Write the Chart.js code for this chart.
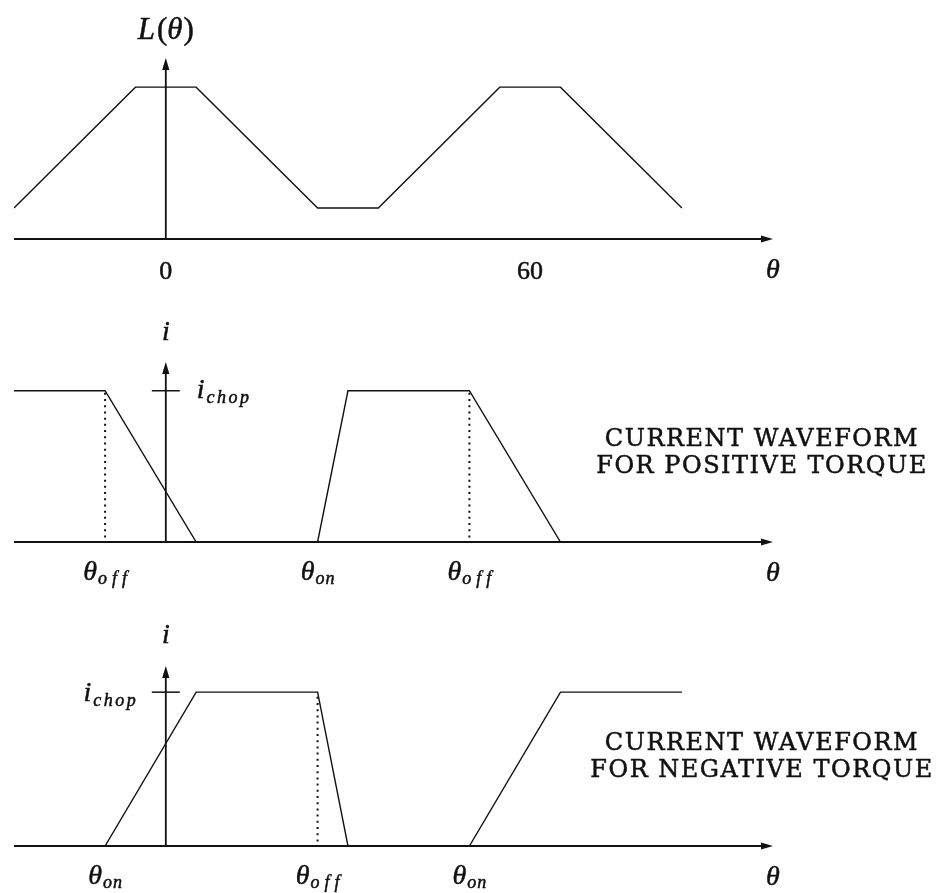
<!DOCTYPE html>
<html>
<head>
<meta charset="utf-8">
<title>Inductance profile and phase current waveforms</title>
<script src="https://cdn.jsdelivr.net/npm/chart.js@4.4.1/dist/chart.umd.min.js"></script>
<style>
  html, body { margin: 0; padding: 0; background: #fff; }
  #wrap { position: relative; width: 937px; height: 893px; }
  #wrap canvas { position: absolute; left: 0; }
</style>
</head>
<body>
<div id="wrap">
  <canvas id="chartL" width="937" height="300" style="top:0"></canvas>
  <canvas id="chartPos" width="937" height="300" style="top:300px"></canvas>
  <canvas id="chartNeg" width="937" height="293" style="top:600px"></canvas>
</div>
<script>
'use strict'

// rotor angle shown on every panel (degrees)
var thetaMin = -25;
var thetaMax = 100;

// phase inductance L(theta), arbitrary units
var inductanceTheta = [-25, -5, 5, 25, 35, 55, 65, 85];
var inductanceValue = [1, 4.9, 4.9, 1, 1, 4.9, 4.9, 1];
var inductanceTicks = [0, 60];
var inductanceTicksText = ['0', '60'];
var inductanceTop = 5.84;

// chopping level of the current, both current panels are scaled to it
var chopLevel = 1;

// current waveform for positive torque
var posTheta = [-25, -10, 5, 25, 30, 50, 65];
var posCurrent = [1, 1, 0, 0, 1, 1, 0];
var posMarks = [-10, 25, 50];
var posMarkNames = ['off', 'on', 'off'];
var posDotted = [-10, 50];
var posTop = 1.19;

// current waveform for negative torque
var negTheta = [-10, 5, 25, 30, 50, 65, 85];
var negCurrent = [0, 1, 1, 0, 0, 1, 1];
var negMarks = [-10, 25, 50];
var negMarkNames = ['on', 'off', 'on'];
var negDotted = [25];
var negTop = 1.17;

var ink = '#111';
var mathFont = 'italic 28px "Liberation Serif"';
var bigMathFont = 'italic 31px "Liberation Serif"';
var subFont = 'italic 18px "Liberation Serif"';
var parenFont = '31px "Liberation Serif"';
var digitFont = '26px "Liberation Serif"';
var noteFont = '24px "DejaVu Serif"';

function points(xs, ys) {
    return xs.map(function (x, k) { return { x: x, y: ys[k] }; });
}

function waveform(xs, ys) {
    return {
        data: points(xs, ys),
        borderColor: ink,
        borderWidth: 1.4,
        pointRadius: 0,
        tension: 0,
        fill: false
    };
}

function dottedLines(xs) {
    return xs.map(function (x) {
        return {
            data: points([x, x], [0.03, chopLevel]),
            borderColor: ink,
            borderWidth: 2,
            borderDash: [2, 4.2],
            pointRadius: 0,
            fill: false
        };
    });
}

// text made of pieces (main symbol, subscript...), each piece: text, font, dy, track
function pieceWidth(ctx, p) {
    ctx.font = p.font;
    var w = 0;
    for (var k = 0; k < p.text.length; k++) {
        w += ctx.measureText(p.text[k]).width + (k ? (p.track || 0) : 0);
    }
    return w + (p.lead || 0);
}

function drawPieces(ctx, pieces, x, y, align) {
    var total = 0;
    pieces.forEach(function (p) { total += pieceWidth(ctx, p); });
    var cx = align === 'left' ? x : align === 'right' ? x - total : x - total / 2;
    ctx.textAlign = 'left';
    ctx.textBaseline = 'alphabetic';
    ctx.lineWidth = 0.5;
    pieces.forEach(function (p) {
        ctx.font = p.font;
        cx += p.lead || 0;
        for (var k = 0; k < p.text.length; k++) {
            if (k) cx += p.track || 0;
            ctx.fillText(p.text[k], cx, y + (p.dy || 0));
            ctx.strokeText(p.text[k], cx, y + (p.dy || 0));
            cx += ctx.measureText(p.text[k]).width;
        }
    });
}

function thetaSub(name) {
    return [
        { text: 'θ', font: mathFont },
        { text: name, font: subFont, dy: 4, track: name === 'off' ? 5 : 1, lead: 1 }
    ];
}

var chopPieces = [
    { text: 'i', font: mathFont },
    { text: 'chop', font: subFont, dy: 5, track: 2.5, lead: 2 }
];

function arrowHead(ctx, tipX, tipY, dx, dy) {
    var len = 12, half = 3.6;
    var bx = tipX - dx * len, by = tipY - dy * len;
    ctx.beginPath();
    ctx.moveTo(tipX, tipY);
    ctx.lineTo(bx - dy * half, by + dx * half);
    ctx.lineTo(bx + dy * half, by - dx * half);
    ctx.closePath();
    ctx.fill();
}

// axes with arrows, angle marks and captions
var sketchAxes = {
    id: 'sketchAxes',
    beforeDatasetsDraw: function (chart) {
        var ctx = chart.ctx, xs = chart.scales.x, ys = chart.scales.y;
        var x0 = xs.getPixelForValue(0), y0 = ys.getPixelForValue(0);
        var left = xs.getPixelForValue(thetaMin), right = xs.getPixelForValue(thetaMax);
        var top = ys.getPixelForValue(ys.max);
        ctx.save();
        ctx.strokeStyle = ink;
        ctx.fillStyle = ink;
        ctx.lineWidth = 1.8;
        ctx.beginPath();
        ctx.moveTo(left, y0);
        ctx.lineTo(right - 6, y0);
        ctx.moveTo(x0, y0);
        ctx.lineTo(x0, top + 6);
        ctx.stroke();
        arrowHead(ctx, right, y0, 1, 0);
        arrowHead(ctx, x0, top, 0, -1);
        ctx.restore();
    },
    afterDatasetsDraw: function (chart, args, opts) {
        var ctx = chart.ctx, xs = chart.scales.x, ys = chart.scales.y;
        var x0 = xs.getPixelForValue(0), y0 = ys.getPixelForValue(0);
        var right = xs.getPixelForValue(thetaMax);
        var top = ys.getPixelForValue(ys.max);
        ctx.save();
        ctx.fillStyle = ink;
        ctx.strokeStyle = ink;

        drawPieces(ctx, opts.yName, x0, top - opts.yNameGap, 'center');
        drawPieces(ctx, [{ text: 'θ', font: mathFont }], right, y0 + 39, 'center');

        (opts.ticks || []).forEach(function (v, k) {
            drawPieces(ctx, [{ text: opts.tickText[k], font: digitFont }], xs.getPixelForValue(v), y0 + 40, 'center');
        });

        (opts.marks || []).forEach(function (v, k) {
            drawPieces(ctx, thetaSub(opts.markNames[k]), xs.getPixelForValue(v), y0 + 38, 'center');
        });

        if (opts.chop) {
            var yc = ys.getPixelForValue(chopLevel);
            ctx.lineWidth = 1.5;
            ctx.beginPath();
            ctx.moveTo(x0 - 14, yc);
            ctx.lineTo(x0 + 14, yc);
            ctx.stroke();
            if (opts.chop === 'right') {
                drawPieces(ctx, chopPieces, x0 + 31, yc + 7, 'left');
            } else {
                drawPieces(ctx, chopPieces, x0 - 30, yc + 9, 'right');
            }
        }

        if (opts.note) {
            ctx.font = noteFont;
            ctx.textAlign = 'center';
            ctx.textBaseline = 'middle';
            ctx.letterSpacing = '1.5px';
            ctx.lineWidth = 0.5;
            [0, 1].forEach(function (k) {
                var ty = y0 - 102 + k * 27;
                ctx.fillText(opts.note[k], right - 11, ty);
                ctx.strokeText(opts.note[k], right - 11, ty);
            });
        }
        ctx.restore();
    }
};

function makePanel(id, datasets, yTop, pad, notes) {
    return new Chart(document.getElementById(id), {
        type: 'line',
        data: { datasets: datasets },
        options: {
            responsive: false,
            animation: false,
            devicePixelRatio: 1,
            layout: { padding: pad },
            scales: {
                x: { type: 'linear', min: thetaMin, max: thetaMax, display: false },
                y: { type: 'linear', min: 0, max: yTop, display: false }
            },
            plugins: {
                legend: { display: false },
                tooltip: { enabled: false },
                sketchAxes: notes
            }
        },
        plugins: [sketchAxes]
    });
}

makePanel('chartL', [waveform(inductanceTheta, inductanceValue)], inductanceTop,
    { left: 14, right: 164, top: 58, bottom: 61 },
    {
        yName: [
            { text: 'L', font: bigMathFont },
            { text: '(', font: parenFont, lead: 2 },
            { text: 'θ', font: bigMathFont },
            { text: ')', font: parenFont, lead: 1 }
        ],
        yNameGap: 19,
        ticks: inductanceTicks,
        tickText: inductanceTicksText
    });

makePanel('chartPos', [waveform(posTheta, posCurrent)].concat(dottedLines(posDotted)), posTop,
    { left: 14, right: 164, top: 62, bottom: 58 },
    {
        yName: [{ text: 'i', font: mathFont }],
        yNameGap: 22,
        marks: posMarks,
        markNames: posMarkNames,
        chop: 'right',
        note: ['CURRENT WAVEFORM', 'FOR POSITIVE TORQUE']
    });

makePanel('chartNeg', [waveform(negTheta, negCurrent)].concat(dottedLines(negDotted)), negTop,
    { left: 14, right: 164, top: 66, bottom: 47 },
    {
        yName: [{ text: 'i', font: mathFont }],
        yNameGap: 23,
        marks: negMarks,
        markNames: negMarkNames,
        chop: 'left',
        note: ['CURRENT WAVEFORM', 'FOR NEGATIVE TORQUE']
    });
</script>
</body>
</html>
